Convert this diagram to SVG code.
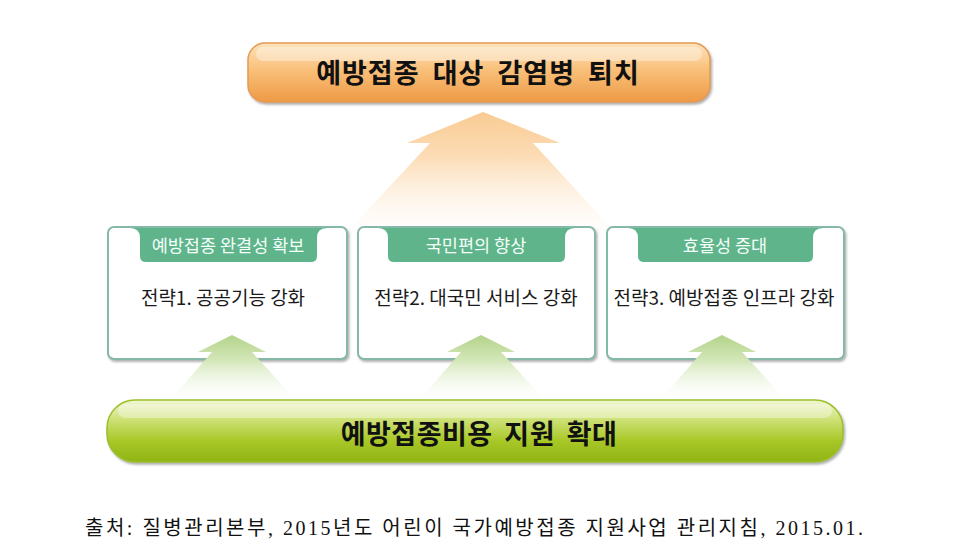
<svg xmlns="http://www.w3.org/2000/svg" width="959" height="557" viewBox="0 0 959 557">
<defs>
  <linearGradient id="orangeBar" x1="0" y1="0" x2="0" y2="1">
    <stop offset="0" stop-color="#fde3bd"/>
    <stop offset="0.45" stop-color="#f9c07a"/>
    <stop offset="1" stop-color="#ee9a45"/>
  </linearGradient>
  <linearGradient id="greenBar" x1="0" y1="0" x2="0" y2="1">
    <stop offset="0" stop-color="#f1f6d2"/>
    <stop offset="0.3" stop-color="#cfe27a"/>
    <stop offset="0.65" stop-color="#a9c829"/>
    <stop offset="1" stop-color="#90b414"/>
  </linearGradient>
  <linearGradient id="orangeArrow" x1="0" y1="0" x2="0" y2="1">
    <stop offset="0" stop-color="#f9cb92"/>
    <stop offset="0.35" stop-color="#fcdcb6"/>
    <stop offset="1" stop-color="#ffffff" stop-opacity="0.2"/>
  </linearGradient>
  <linearGradient id="greenArrow" x1="0" y1="0" x2="0" y2="1">
    <stop offset="0" stop-color="#b3d38a"/>
    <stop offset="0.4" stop-color="#d3e7b8"/>
    <stop offset="1" stop-color="#ffffff" stop-opacity="0.3"/>
  </linearGradient>
  <filter id="shadow" x="-10%" y="-10%" width="120%" height="130%">
    <feDropShadow dx="1.5" dy="2" stdDeviation="1.2" flood-color="#707070" flood-opacity="0.55"/>
  </filter>
</defs>
<style>
  .box { fill: #ffffff; stroke: #86b8aa; stroke-width: 2; }
  .tab { fill: #5fb48c; }
  .tabtext { font-family: "Noto Sans CJK KR", sans-serif; font-size: 17.5px; fill: #f4fff8; text-anchor: middle; }
  .body { font-family: "Noto Sans CJK KR", sans-serif; font-size: 19px; fill: #1a1a1a; text-anchor: middle; }
  .title { font-family: "Noto Sans CJK KR", sans-serif; font-size: 27px; font-weight: bold; fill: #111111; text-anchor: middle; }
  .caption { font-family: "Liberation Serif", "Noto Sans CJK KR", serif; font-size: 20px; fill: #111111; }
</style>
<rect width="959" height="557" fill="#ffffff"/>

<g id="connectors">
  <polygon id="arrow-main" points="483,112 560,143 533,143 622,240 340,240 430,143 407,143" fill="url(#orangeArrow)"/>
</g>

<g id="goal">
  <rect x="248" y="43" width="462" height="59" rx="17" fill="url(#orangeBar)" stroke="#e59a52" stroke-width="1.5" filter="url(#shadow)"/>
  <rect x="256" y="47" width="446" height="14" rx="7" fill="#ffffff" opacity="0.35"/>
  <text class="title" x="478" y="83" letter-spacing="1" word-spacing="6">예방접종 대상 감염병 퇴치</text>
</g>

<g id="strategy1">
  <rect class="box" x="108" y="227" width="239" height="132" rx="6" filter="url(#shadow)"/>
  <path class="tab" d="M130,228 Q140,228 140,238 L140,256 Q140,262 146,262 L311,262 Q317,262 317,256 L317,238 Q317,228 327,228 Z"/>
  <text class="tabtext" x="228" y="252">예방접종 완결성 확보</text>
  <text class="body" x="223" y="305">전략1. 공공기능 강화</text>
</g>

<g id="strategy2">
  <rect class="box" x="358" y="227" width="237" height="132" rx="6" filter="url(#shadow)"/>
  <path class="tab" d="M378,228 Q388,228 388,238 L388,256 Q388,262 394,262 L559,262 Q565,262 565,256 L565,238 Q565,228 575,228 Z"/>
  <text class="tabtext" x="476" y="252">국민편의 향상</text>
  <text class="body" x="476" y="305">전략2. 대국민 서비스 강화</text>
</g>

<g id="strategy3">
  <rect class="box" x="607" y="227" width="237" height="132" rx="6" filter="url(#shadow)"/>
  <path class="tab" d="M628,228 Q638,228 638,238 L638,256 Q638,262 644,262 L807,262 Q813,262 813,256 L813,238 Q813,228 823,228 Z"/>
  <text class="tabtext" x="725" y="252">효율성 증대</text>
  <text class="body" x="724" y="305">전략3. 예방접종 인프라 강화</text>
</g>

<g id="connectors-up">
  <polygon points="232,335 266,352 252,352 294,398 172,398 212,352 198,352" fill="url(#greenArrow)"/>
  <polygon points="481,335 515,352 501,352 543,398 421,398 461,352 447,352" fill="url(#greenArrow)"/>
  <polygon points="722,335 756,352 742,352 784,398 662,398 702,352 688,352" fill="url(#greenArrow)"/>
</g>

<g id="support">
  <rect x="107" y="400" width="736" height="62" rx="28" fill="url(#greenBar)" stroke="#9cbf2a" stroke-width="1.5" filter="url(#shadow)"/>
  <rect x="118" y="404" width="714" height="14" rx="7" fill="#ffffff" opacity="0.35"/>
  <text class="title" x="479" y="444" letter-spacing="0.5" word-spacing="5">예방접종비용 지원 확대</text>
</g>

<text class="caption" x="85" y="535" textLength="778" lengthAdjust="spacing">출처: 질병관리본부, 2015년도 어린이 국가예방접종 지원사업 관리지침, 2015.01.</text>
</svg>
